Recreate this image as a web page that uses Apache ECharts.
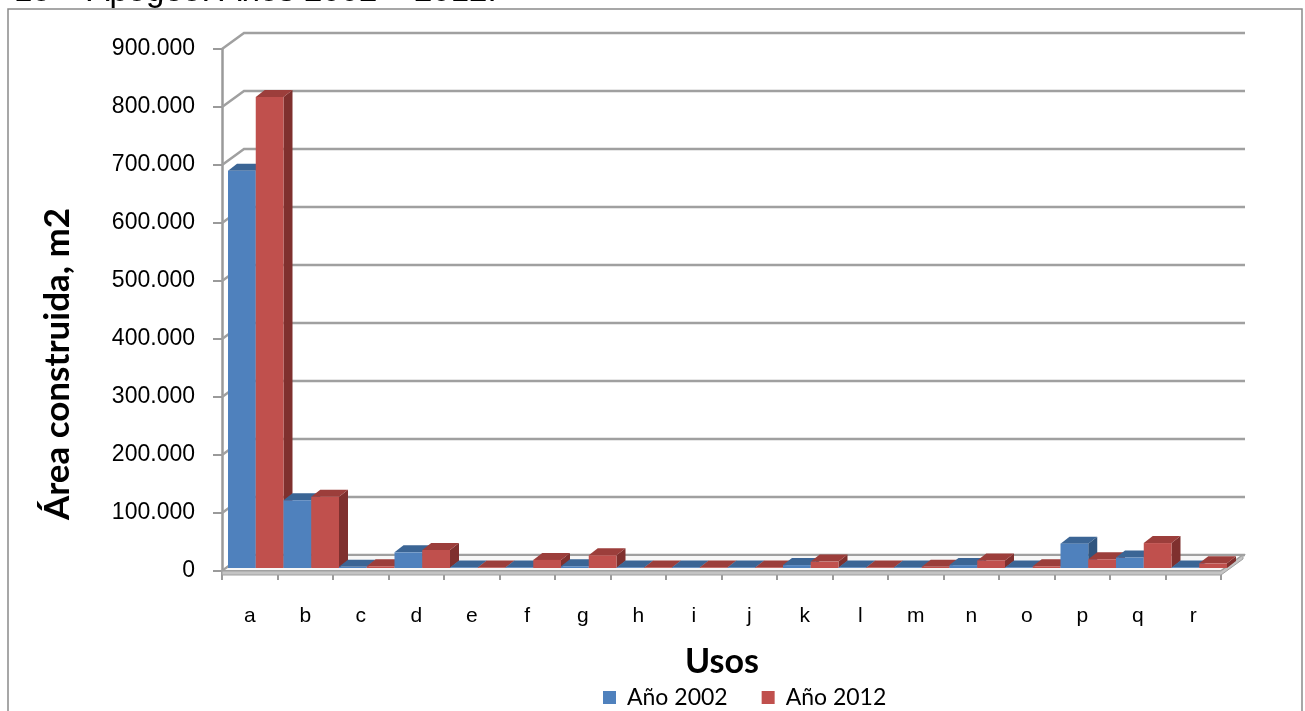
<!DOCTYPE html>
<html>
<head>
<meta charset="utf-8">
<script src="https://cdn.jsdelivr.net/npm/echarts@6/dist/echarts.min.js"></script>
<style>
  html, body { margin: 0; padding: 0; background: #fff; }
  #chart { width: 1305px; height: 711px; }
</style>
</head>
<body>
<div id="chart"></div>
<script>
// Usos del suelo: área construida (m2) por uso, años 2002 y 2012
const categories = ['a', 'b', 'c', 'd', 'e', 'f', 'g', 'h', 'i', 'j', 'k', 'l', 'm', 'n', 'o', 'p', 'q', 'r'];
const area2002 = [685000, 117000, 2000, 27000, 1000, 1000, 3000, 1000, 1000, 1000, 5000, 1000, 1000, 5000, 1000, 42000, 18000, 1000];
const area2012 = [812000, 123000, 3000, 31000, 1000, 14000, 22000, 1000, 1000, 1000, 11000, 1000, 2000, 13000, 3000, 15000, 43000, 8000];
const yTicks = [0, 100000, 200000, 300000, 400000, 500000, 600000, 700000, 800000, 900000];

// pseudo-3D projection offsets (pixels)
const DEPTH = [22, -16];     // front plane -> back wall
const BAR_FRONT = [6, -3];   // front face of the columns
const BAR_DEPTH = [9, -7];   // column top / side depth

const FONT = 'Liberation Sans, Arial, sans-serif';
const FONT_TITLE = 'Lato, Noto Sans, sans-serif';

const palette = [
  { front: '#4f81bd', top: '#3b6595', side: '#30557f' },
  { front: '#c0504d', top: '#9c3e3b', side: '#7f302e' }
];

function fmt(v) {
  return String(v).replace(/\B(?=(\d{3})+(?!\d))/g, '.');
}

function barRenderer(s) {
  return function (params, api) {
    const idx = api.value(0);
    const v = api.value(1);
    const base = api.coord([idx, 0]);
    const top = api.coord([idx, v]);
    const band = api.size([1, 0])[0];
    const w = band / 2;
    const x0 = base[0] - band / 2 + BAR_FRONT[0] + s * w;
    const yb = base[1] + BAR_FRONT[1];
    const yt = top[1] + BAR_FRONT[1];
    const c = palette[s];
    const order = (idx * 2 + s) * 10 + 10;
    return {
      type: 'group',
      children: [
        {
          type: 'polygon', z2: order,
          shape: { points: [[x0 + w, yt], [x0 + w + BAR_DEPTH[0], yt + BAR_DEPTH[1]], [x0 + w + BAR_DEPTH[0], yb + BAR_DEPTH[1]], [x0 + w, yb]] },
          style: { fill: c.side }
        },
        {
          type: 'polygon', z2: order + 1,
          shape: { points: [[x0, yt], [x0 + w, yt], [x0 + w + BAR_DEPTH[0], yt + BAR_DEPTH[1]], [x0 + BAR_DEPTH[0], yt + BAR_DEPTH[1]]] },
          style: { fill: c.top }
        },
        {
          type: 'rect', z2: order + 2,
          shape: { x: x0, y: yt, width: w, height: Math.max(yb - yt, 0) },
          style: { fill: c.front }
        }
      ]
    };
  };
}

const chart = echarts.init(document.getElementById('chart'), null, { renderer: 'canvas' });

chart.setOption({
  animation: false,
  backgroundColor: '#ffffff',
  grid: { left: 222, right: 84, top: 49, bottom: 140 },
  legend: {
    left: 603, top: 686,
    padding: 0,
    itemWidth: 13, itemHeight: 13, itemGap: 34,
    icon: 'rect',
    textStyle: { fontFamily: FONT_TITLE, fontSize: 23, color: '#000', padding: [0, 0, 0, 6] },
    data: [
      { name: 'Año 2002', itemStyle: { color: palette[0].front } },
      { name: 'Año 2012', itemStyle: { color: palette[1].front } }
    ]
  },
  xAxis: {
    type: 'category',
    data: categories,
    boundaryGap: true,
    axisLine: { show: false },
    axisTick: { show: true, length: 9, lineStyle: { color: '#9a9a9a', width: 2 } },
    axisLabel: { margin: 35, fontFamily: FONT, fontSize: 21, color: '#000' },
    splitLine: { show: false }
  },
  yAxis: {
    type: 'value',
    min: 0, max: 900000, interval: 100000,
    axisLine: { show: true, lineStyle: { color: '#9a9a9a', width: 2.5 } },
    axisTick: { show: true, length: 9, lineStyle: { color: '#9a9a9a', width: 2 } },
    axisLabel: { margin: 27, fontFamily: FONT, fontSize: 23, color: '#000', formatter: fmt },
    splitLine: { show: false }
  },
  graphic: [
    {
      type: 'text', left: 14, top: -25, z: 10,
      style: { text: '15 – Apogeo. Años 2002 – 2012.', font: '33px ' + FONT, fill: '#000' }
    },
    {
      type: 'rect', z: 11,
      shape: { x: 8, y: 9, width: 1294, height: 720 },
      style: { fill: null, stroke: '#8a8a8a', lineWidth: 1.5 }
    },
    {
      type: 'text', x: 58, y: 364, rotation: Math.PI / 2, z: 10,
      style: { text: 'Área construida, m2', font: 'bold 35px ' + FONT_TITLE, fill: '#000', align: 'center', verticalAlign: 'middle' }
    },
    {
      type: 'text', x: 722, y: 662, z: 10,
      style: { text: 'Usos', font: 'bold 34px ' + FONT_TITLE, fill: '#000', align: 'center', verticalAlign: 'middle' }
    }
  ],
  series: [
    {
      // back wall gridlines, one per tick value
      type: 'custom',
      silent: true,
      z: 1,
      data: yTicks.map(v => [0, v]),
      renderItem: function (params, api) {
        const cs = params.coordSys;
        const y = api.coord([0, api.value(1)])[1];
        return {
          type: 'polyline',
          shape: { points: [[cs.x, y], [cs.x + DEPTH[0], y + DEPTH[1]], [cs.x + cs.width + DEPTH[0] + 2, y + DEPTH[1]]] },
          style: { stroke: '#a0a0a0', lineWidth: 2.5, fill: null }
        };
      }
    },
    {
      // floor slab
      type: 'custom',
      silent: true,
      z: 1,
      data: [[0, 0]],
      renderItem: function (params, api) {
        const cs = params.coordSys;
        const y0 = api.coord([0, 0])[1];
        const xl = cs.x, xr = cs.x + cs.width;
        return {
          type: 'group',
          children: [
            {
              type: 'polygon', z2: 1,
              shape: { points: [[xl, y0], [xr, y0], [xr + DEPTH[0], y0 + DEPTH[1]], [xl + DEPTH[0], y0 + DEPTH[1]]] },
              style: { fill: '#f7f7f7', stroke: '#a0a0a0', lineWidth: 2 }
            },
            {
              type: 'polygon', z2: 2,
              shape: { points: [[xl, y0], [xr, y0], [xr + DEPTH[0], y0 + DEPTH[1]], [xr + DEPTH[0], y0 + DEPTH[1] + 4], [xr, y0 + 4], [xl, y0 + 4]] },
              style: { fill: '#c4c4c4', stroke: '#a0a0a0', lineWidth: 1 }
            }
          ]
        };
      }
    },
    {
      name: 'Año 2002',
      type: 'custom',
      z: 2,
      itemStyle: { color: palette[0].front },
      data: area2002.map((v, i) => [i, v]),
      renderItem: barRenderer(0)
    },
    {
      name: 'Año 2012',
      type: 'custom',
      z: 2,
      itemStyle: { color: palette[1].front },
      data: area2012.map((v, i) => [i, v]),
      renderItem: barRenderer(1)
    }
  ]
});
</script>
</body>
</html>
